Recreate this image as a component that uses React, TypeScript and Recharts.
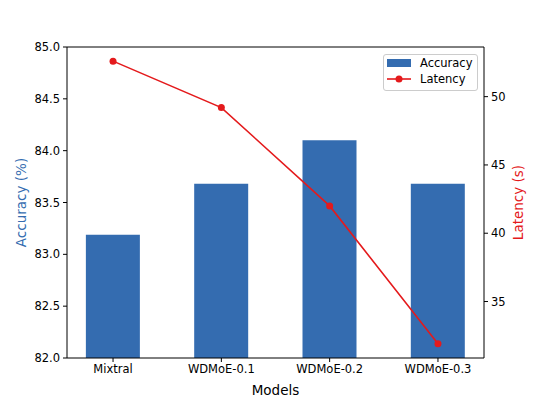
import React from 'react';
import { ComposedChart, Bar, Line, XAxis, YAxis, ReferenceLine } from 'recharts';

const models = ['Mixtral', 'WDMoE-0.1', 'WDMoE-0.2', 'WDMoE-0.3'];
const accuracy = [83.19, 83.68, 84.1, 83.68];
const latency = [52.6, 49.2, 42.0, 31.9];
const accTicks = [82, 82.5, 83, 83.5, 84, 84.5, 85];
const latTicks = [35, 40, 45, 50];

const data = models.map((m, i) => ({ x: i, name: m, accuracy: accuracy[i], latency: latency[i] }));

const BLUE = '#346cb0';
const RED = '#e41a1c';
const FONT = 'DejaVu Sans, sans-serif';
const TICK_FS = 11.5;
const LABEL_FS = 13.5;

const LegendBox = () => (
  <div
    style={{
      position: 'absolute',
      left: 383,
      top: 54,
      border: '1px solid #cccccc',
      borderRadius: 3,
      background: 'rgba(255,255,255,0.8)',
      width: 95,
      height: 37,
      boxSizing: 'border-box',
      fontFamily: FONT,
      fontSize: TICK_FS,
      color: '#000',
      padding: '0 0 0 3px',
      lineHeight: '16px',
    }}
  >
    <div style={{ display: 'flex', alignItems: 'center', height: 16 }}>
      <svg width={26} height={10} style={{ marginRight: 7 }}>
        <rect x={0} y={1} width={24} height={8} fill={BLUE} />
      </svg>
      <span>Accuracy</span>
    </div>
    <div style={{ display: 'flex', alignItems: 'center', height: 16 }}>
      <svg width={26} height={10} style={{ marginRight: 7 }}>
        <line x1={0} y1={5} x2={24} y2={5} stroke={RED} strokeWidth={1.6} />
        <circle cx={12} cy={5} r={3.5} fill={RED} />
      </svg>
      <span>Latency</span>
    </div>
  </div>
);

export default function App() {
  return (
    <div style={{ position: 'absolute', left: 0, top: 0, width: 538, height: 403, background: '#fff' }}>
      <ComposedChart
        width={538}
        height={403}
        data={data}
        margin={{ top: 47, right: 0, bottom: 0, left: 0 }}
        style={{ fontFamily: FONT }}
      >
        <XAxis
          dataKey="x"
          type="number"
          domain={[-0.425, 3.425]}
          ticks={[0, 1, 2, 3]}
          tickFormatter={(v: number) => models[v]}
          allowDataOverflow
          height={45}
          stroke="#000"
          tickSize={4}
          tickMargin={3}
          tick={{ fill: '#000', fontSize: TICK_FS, fontFamily: FONT }}
          label={{ value: 'Models', position: 'insideBottom', offset: 8, fill: '#000', fontSize: LABEL_FS, fontFamily: FONT }}
        />
        <YAxis
          yAxisId="left"
          orientation="left"
          width={67}
          domain={[82, 85]}
          ticks={accTicks}
          allowDataOverflow
          tickFormatter={(v: number) => v.toFixed(1)}
          stroke="#000"
          tickSize={4}
          tickMargin={3}
          tick={{ fill: '#000', fontSize: TICK_FS, fontFamily: FONT }}
          label={{ value: 'Accuracy (%)', angle: -90, position: 'center', dx: -12, fill: BLUE, fontSize: LABEL_FS, fontFamily: FONT }}
        />
        <YAxis
          yAxisId="right"
          orientation="right"
          width={54}
          domain={[30.865, 53.635]}
          ticks={latTicks}
          allowDataOverflow
          stroke="#000"
          tickSize={4}
          tickMargin={3}
          tick={{ fill: '#000', fontSize: TICK_FS, fontFamily: FONT }}
          label={{ value: 'Latency (s)', angle: -90, position: 'center', dx: 7, fill: RED, fontSize: LABEL_FS, fontFamily: FONT }}
        />
        <Bar
          yAxisId="left"
          dataKey="accuracy"
          name="Accuracy"
          fill={BLUE}
          barSize={54}
          isAnimationActive={false}
        />
        <Line
          yAxisId="right"
          dataKey="latency"
          name="Latency"
          stroke={RED}
          strokeWidth={1.6}
          dot={{ r: 3.5, fill: RED, stroke: RED, strokeWidth: 0 }}
          activeDot={false}
          isAnimationActive={false}
        />
        <ReferenceLine yAxisId="left" y={85} stroke="#000" strokeWidth={1} ifOverflow="visible" />
      </ComposedChart>
      <LegendBox />
    </div>
  );
}
